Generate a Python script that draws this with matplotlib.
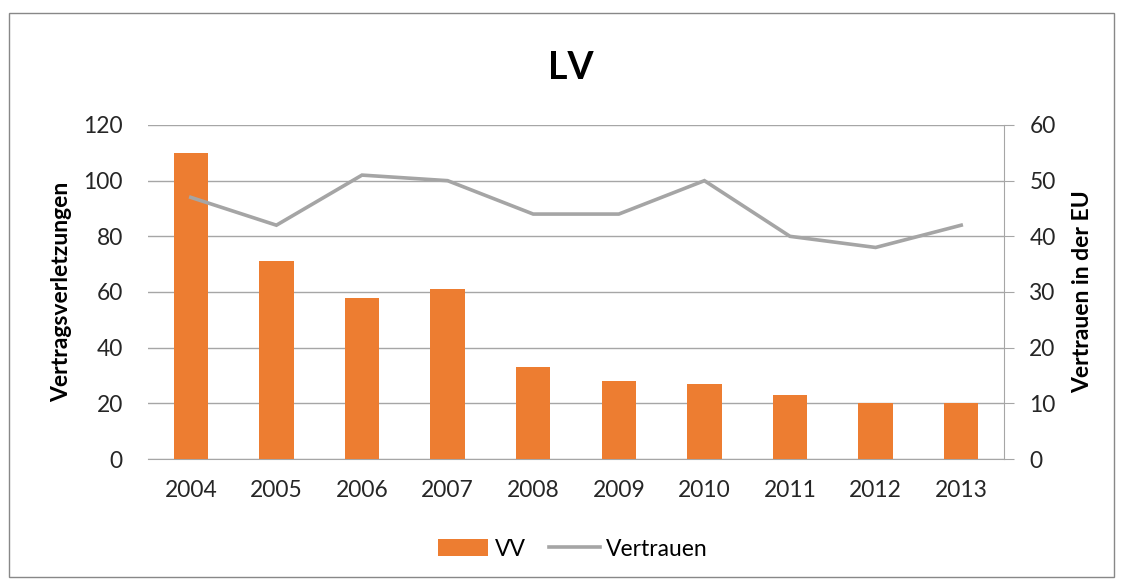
import matplotlib
matplotlib.use("Agg")
import matplotlib.pyplot as plt
from matplotlib.patches import Rectangle
import numpy as np

years = ["2004", "2005", "2006", "2007", "2008", "2009", "2010", "2011", "2012", "2013"]
vv = [110, 71, 58, 61, 33, 28, 27, 23, 20, 20]
vertrauen = [47, 42, 51, 50, 44, 44, 50, 40, 38, 42]

plt.rcParams['font.family'] = ['Lato', 'DejaVu Sans']

W, H = 1122, 580
fig = plt.figure(figsize=(W/100, H/100), dpi=100)
fig.patch.set_facecolor('white')

# outer frame
fig.add_artist(Rectangle((9/W, 1 - 577/H), (1114-9)/W, (577-13)/H,
                         transform=fig.transFigure, fill=False,
                         edgecolor='#888888', linewidth=1.0))

x0, x1, y0, y1 = 148, 1004, 125, 459
ax = fig.add_axes([x0/W, 1 - y1/H, (x1-x0)/W, (y1-y0)/H])
ax2 = ax.twinx()

x = np.arange(len(years))
orange = '#ED7D31'
grey = '#A5A5A5'

bars = ax.bar(x, vv, width=0.4, color=orange, zorder=3, label='VV')
line, = ax2.plot(x, vertrauen, color=grey, linewidth=2.6, label='Vertrauen',
                 solid_joinstyle='miter', zorder=4)

ax.set_xlim(-0.5, len(years) - 0.5)
ax.set_ylim(0, 120)
ax.set_yticks(np.arange(0, 121, 20))
ax2.set_ylim(0, 60)
ax2.set_yticks(np.arange(0, 61, 10))

ax.set_xticks(x)
ax.set_xticklabels(years)
ax.yaxis.grid(True, color='#A6A6A6', linewidth=1.0, zorder=0)
ax.set_axisbelow(True)

for a in (ax, ax2):
    for s in ('top', 'left'):
        a.spines[s].set_visible(False)
ax.spines['right'].set_visible(False)
ax2.spines['bottom'].set_visible(False)
ax.spines['bottom'].set_color('#A6A6A6')
ax2.spines['right'].set_color('#A6A6A6')

fs = 16.4
ax.tick_params(axis='y', length=0, labelsize=fs, pad=18, labelcolor='#262626')
ax.tick_params(axis='x', length=0, labelsize=fs, pad=15, labelcolor='#262626')
ax2.tick_params(axis='y', length=7.2, color='#A6A6A6', labelsize=fs, pad=11, labelcolor='#262626')

ax.set_ylabel('Vertragsverletzungen', fontsize=16.5, fontweight='bold', labelpad=8)
ax2.set_ylabel('Vertrauen in der EU', fontsize=16.5, fontweight='bold', labelpad=12)

fig.text(0.5085, 1 - 68/H, 'LV', ha='center', va='center', fontsize=27, fontweight='bold')

fig.legend(handles=[bars, line], labels=['VV', 'Vertrauen'], loc='center',
           bbox_to_anchor=(573/W, 1 - 549/H), ncol=2, frameon=False,
           fontsize=16.5, handlelength=2.2, columnspacing=1.0, handletextpad=0.3)

fig.savefig('out.png', dpi=100, facecolor='white')
